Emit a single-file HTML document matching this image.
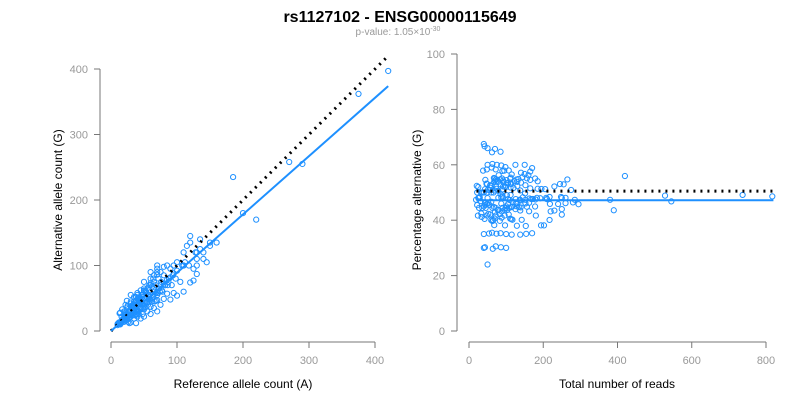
<!DOCTYPE html>
<html><head><meta charset="utf-8"><style>
body{margin:0;background:#fff;width:800px;height:400px;overflow:hidden;font-family:"Liberation Sans",sans-serif}
svg text{font-family:"Liberation Sans",sans-serif}
</style></head><body>
<svg id="chart" width="800" height="400" xmlns="http://www.w3.org/2000/svg">
<text x="400" y="22" text-anchor="middle" font-size="16" font-weight="bold" fill="#000">rs1127102 - ENSG00000115649</text>
<text x="398" y="35" text-anchor="middle" font-size="10" fill="#999">p-value: 1.05×10<tspan dy="-4" font-size="7">-30</tspan></text>
<g id="left"></g>
<g id="right"></g>
</svg>
<script>
const refCounts=[420,375,270,290,185,200,220,140,160,150,130,135,125,110,115,120,105,100,95,98,90,92,88,85,82,80,78,76,75,73,72,70,70,68,66,65,64,62,60,60,58,57,56,55,54,52,50,50,48,47,46,45,44,43,42,41,40,40,39,38,37,36,35,35,34,33,32,31,30,30,29,28,27,26,25,25,24,23,22,21,20,20,19,18,17,16,15,15,14,13,12,12,11,10,10,60,65,70,75,80,85,90,55,50,45,40,35,30,25,20,18,22,28,33,38,43,48,53,58,63,68,72,77,82,87,95,100,108,112,45,50,38,42,30,26,34,52,66,58,44,36,28,24,16,14,62,70,48,56,40,32,20,110,118,128,86,94,74,64,54,46,
30,45,50,28,60,70,38,40,55,65,90,35,48,75,100,110,26,80,95,120,125,60,42,50,70,85,130,36,25,30,40,50,60,70,20,80,20,30,40,25,50,60,35,70,14,17,13,24,30,22,130,120,140,135,150,110,145,130,
33,47,52,58,44,39,62,71,27,36,41,55,49,68,31,23,57,46,64,53];
const altCounts=[397,362,258,255,235,180,170,110,135,130,120,140,95,100,130,145,75,105,100,80,95,70,80,100,70,85,60,75,90,65,80,55,95,70,60,75,52,68,70,48,62,55,66,45,58,50,62,40,52,44,55,35,48,42,50,38,45,32,40,46,30,42,38,28,35,33,28,36,25,30,32,24,28,22,26,20,24,20,18,22,16,20,14,18,15,16,12,14,13,12,10,13,11,9,11,80,85,90,70,72,78,82,50,65,42,55,45,22,36,28,18,25,20,40,25,50,35,60,45,55,58,65,62,70,75,88,92,100,105,62,38,52,30,42,24,40,60,45,70,34,42,30,20,22,10,45,60,55,40,30,38,14,120,100,120,70,85,60,80,42,50,
13,19,22,12,26,30,12,22,30,35,48,19,26,40,54,60,14,49,58,74,77,37,26,33,47,57,87,24,17,37,49,61,73,86,24,98,30,45,58,38,75,90,52,100,28,33,27,46,55,40,110,135,120,125,135,100,105,100,
24,40,36,52,46,26,50,58,30,38,28,44,56,46,38,26,48,44,52,60];
const refLine=[0,420], slopeFit=0.89, pctFit=47.2, pctNull=50.5;
const leftXTicks=[0,100,200,300,400], leftYTicks=[0,100,200,300,400];
const rightXTicks=[0,200,400,600,800], rightYTicks=[0,20,40,60,80,100];
const NS="http://www.w3.org/2000/svg";
function mk(p,t,a){const e=document.createElementNS(NS,t);for(const k in a)e.setAttribute(k,a[k]);p.appendChild(e);return e;}
const lx=v=>111+v*(264/400), ly=v=>331-v*(262/400);
const rx=v=>469+v*(297/800), ry=v=>331-v*(277/100);
function axes(g,xs,ys,xT,yT,x0,xl,yl){
  const xa=mk(g,'g',{});
  
  
  mk(xa,'line',{x1:xs(xT[0]),x2:xs(xT[xT.length-1]),y1:342,y2:342,stroke:'#777'});
  xT.forEach(t=>{mk(xa,'line',{x1:xs(t),x2:xs(t),y1:342,y2:348,stroke:'#777'});
    const tx=mk(xa,'text',{x:xs(t),y:364,'text-anchor':'middle','font-size':11,fill:'#999'});tx.textContent=t;
    
    });
  const ya=mk(g,'g',{});
  
  
  mk(ya,'line',{x1:x0,x2:x0,y1:ys(yT[0]),y2:ys(yT[yT.length-1]),stroke:'#777'});
  yT.forEach(t=>{mk(ya,'line',{x1:x0,x2:x0-6,y1:ys(t),y2:ys(t),stroke:'#777'});
    const tx=mk(ya,'text',{x:x0-12,y:ys(t)+4,'text-anchor':'end','font-size':11,fill:'#999'});tx.textContent=t;
    
    });
  const xt=mk(g,'text',{x:xl[0],y:388,'text-anchor':'middle','font-size':12,fill:'#000'});xt.textContent=xl[1];
  
  
  const yt=mk(g,'text',{x:0,y:0,'text-anchor':'middle','font-size':12,fill:'#000',transform:`translate(${yl[0]},200) rotate(-90)`});yt.textContent=yl[1];
  
  
}
const L=document.getElementById('left'), R=document.getElementById('right');
axes(L,lx,ly,leftXTicks,leftYTicks,100,[243,'Reference allele count (A)'],[62,'Alternative allele count (G)']);
axes(R,rx,ry,rightXTicks,rightYTicks,457,[617,'Total number of reads'],[421,'Percentage alternative (G)']);
refCounts.forEach((r,i)=>{const a=altCounts[i];
  const c=mk(L,'circle',{cx:lx(r),cy:ly(a),r:2.6,fill:'none',stroke:'#1e90ff','stroke-width':1});
  
  
  const t=r+a;
  const c2=mk(R,'circle',{cx:rx(t),cy:ry(100*a/t),r:2.6,fill:'none',stroke:'#1e90ff','stroke-width':1});
  
  });
const l1=mk(L,'line',{x1:lx(refLine[0]),y1:ly(refLine[0]),x2:lx(refLine[1]),y2:ly(refLine[1]),stroke:'#000','stroke-width':3,'stroke-dasharray':'2,5'});


const l2=mk(L,'line',{x1:lx(refLine[0]),y1:ly(0),x2:lx(refLine[1]),y2:ly(refLine[1]*slopeFit),stroke:'#1e90ff','stroke-width':2});


const l3=mk(R,'line',{x1:rx(20),y1:ry(pctNull),x2:rx(820),y2:ry(pctNull),stroke:'#000','stroke-width':3,'stroke-dasharray':'2,5'});


const l4=mk(R,'line',{x1:rx(20),y1:ry(pctFit),x2:rx(820),y2:ry(pctFit),stroke:'#1e90ff','stroke-width':2});


</script>
</body></html>
